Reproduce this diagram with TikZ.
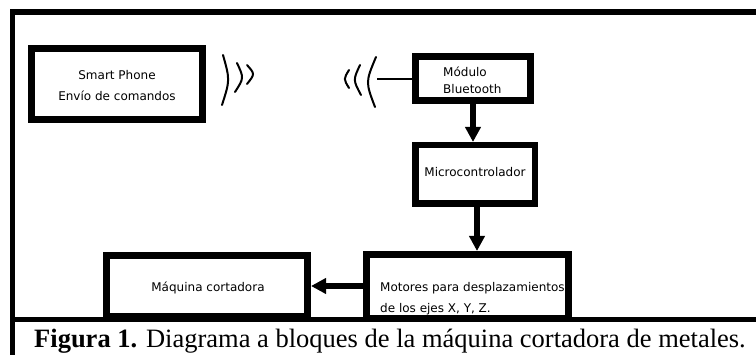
\documentclass[tikz,border=0pt]{standalone}
\usepackage{fontspec}
\setmainfont{Liberation Serif}
\newfontfamily\boxfont{DejaVu Sans}
\usetikzlibrary{arrows.meta,calc}
\tikzset{
  blk/.style={draw, line width=7pt, inner sep=0pt, fill=none},
  txt/.style={font=\boxfont\fontsize{12}{14}\selectfont, inner sep=0pt},
  arr/.style={line width=6pt, -{Triangle[width=15pt,length=15pt]}},
  wave/.style={line width=2pt, line cap=round},
  frame/.style={line width=5.5pt}
}
\begin{document}
\begin{tikzpicture}[x=1pt,y=-1pt]
\useasboundingbox (0,0) rectangle (756,355);
% frame
\draw[frame] (756,12) -- (12.5,12) -- (12.5,355);
\draw[frame] (12.5,319.5) -- (756,319.5);
% boxes
\node[blk, minimum width=171pt, minimum height=71pt] (sp) at (117,84) {};
\node[blk, minimum width=115pt, minimum height=44pt] (bt) at (473,78.5) {};
\node[blk, line width=6.5pt, minimum width=119.5pt, minimum height=58.5pt] (mc) at (475,174.5) {};
\node[blk, minimum width=202pt, minimum height=64pt] (mot) at (467.5,286.5) {};
\node[blk, minimum width=201pt, minimum height=61pt] (maq) at (207,286) {};
% texts
\node[txt, anchor=base] (t1) at (117,80) {Smart Phone};
\node[txt, anchor=base] (t2) at (117,101) {Envío de comandos};
\node[txt, anchor=base west] (t3) at (443,77) {Módulo};
\node[txt, anchor=base west] (t4) at (443,94) {Bluetooth};
\node[txt, anchor=base] (t5) at (475,177) {Microcontrolador};
\node[txt, anchor=base west] (t6) at (380,292) {Motores para desplazamientos};
\node[txt, anchor=base west] (t7) at (380,313) {de los ejes X, Y, Z.};
\node[txt, anchor=base] (t8) at (208,292) {Máquina cortadora};
% arrows
\draw[arr] (bt.south) -- (bt.south |- mc.north);
\draw[arr] ($(mc.south)+(2,0)$) -- ($(mc.south |- mot.north)+(2,0)$);
\draw[arr] (mot.west |- 0,286) -- (maq.east |- 0,286);
% waves (phone)
\draw[wave] (223,55) .. controls (230,80) .. (222,105);
\draw[wave] (237,63) .. controls (244,78) .. (235,92);
\draw[wave] (247,65) .. controls (255,74) .. (247,84);
% waves (bluetooth antenna)
\draw[wave] (349,70) .. controls (343.5,79) .. (349,88);
\draw[wave] (360,65) .. controls (353,80) .. (361,95);
\draw[wave] (376,57) .. controls (365.5,82) .. (375,107);
\coordinate (ant) at (377,79);
\draw[line width=2pt] (ant) -- (ant -| bt.west);
% caption
\node[anchor=base west, inner sep=0pt, font=\fontsize{26.5}{30}\selectfont] (cap) at (34,348)
  {\textbf{Figura 1.} Diagrama a bloques de la máquina cortadora de metales.};
\end{tikzpicture}
\end{document}
